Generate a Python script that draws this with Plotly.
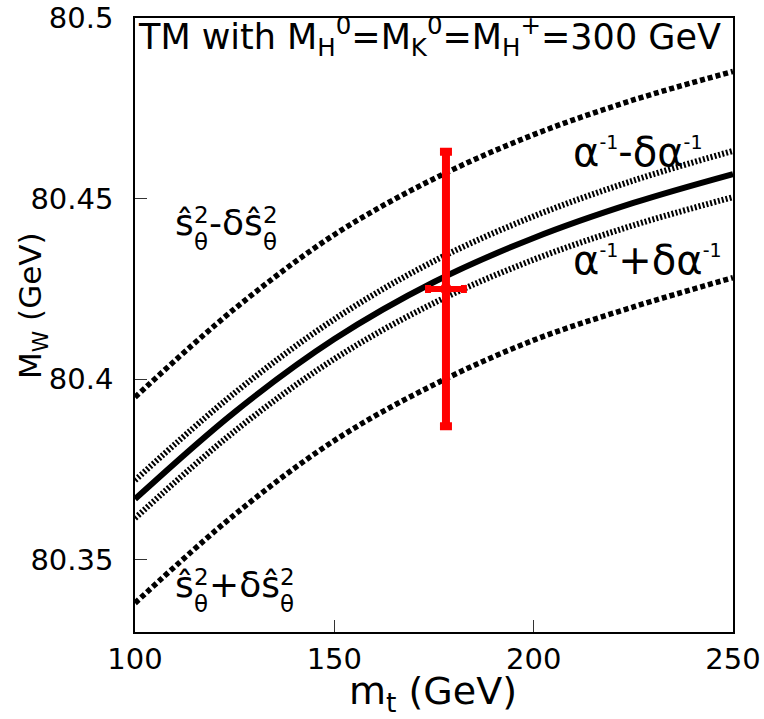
import plotly.graph_objects as go

# ---- data ----
mt = [100, 125, 150, 175, 200, 225, 250]
mw_central = [80.3668, 80.3909, 80.4111, 80.4269, 80.4391, 80.4488, 80.4568]
mw_s_minus = [80.3950, 80.4195, 80.4400, 80.4555, 80.4677, 80.4773, 80.4852]
mw_s_plus = [80.3380, 80.3625, 80.3830, 80.3985, 80.4108, 80.4200, 80.4281]
mw_a_minus = [80.3720, 80.3962, 80.4166, 80.4327, 80.4451, 80.4550, 80.4632]
mw_a_plus = [80.3615, 80.3856, 80.4056, 80.4211, 80.4331, 80.4426, 80.4504]

exp_mt = [178.0]
exp_mt_err = [4.5]
exp_mw = [80.425]
exp_mw_err = [0.038]

x_ticks = [100, 150, 200, 250]
x_ticktext = ["100", "150", "200", "250"]
y_ticks = [80.35, 80.4, 80.45, 80.5]
y_ticktext = ["80.35", "80.4", "80.45", "80.5"]

FONT = "DejaVu Sans"

fig = go.Figure()

def curve(y, width, dash):
    fig.add_trace(go.Scatter(x=mt, y=y, mode="lines",
                             line=dict(color="black", width=width, dash=dash, shape="spline"),
                             hoverinfo="skip", showlegend=False))

curve(mw_s_minus, 5.5, "5px,3px")
curve(mw_s_plus, 5.5, "5px,3px")
curve(mw_a_minus, 6, "2px,2px")
curve(mw_a_plus, 6, "2px,2px")
curve(mw_central, 6, "solid")

fig.add_trace(go.Scatter(
    x=exp_mt, y=exp_mw, mode="markers",
    marker=dict(color="red", size=12, symbol="circle"),
    error_x=dict(type="data", array=exp_mt_err, color="red", thickness=6, width=4),
    error_y=dict(type="data", array=exp_mw_err, color="red", thickness=8, width=6),
    showlegend=False, hoverinfo="skip"))

# plot area in pixels: x 135..733, y 18..632
def px(xp):
    return (xp - 135) / 598.0

def py(yp):
    return (632 - yp) / 614.0

ann = []

def add(text, x, y, size, xanchor="left", yanchor="middle", **kw):
    d = dict(text=text, x=px(x), y=py(y), xanchor=xanchor, yanchor=yanchor,
             font=dict(size=size, family=FONT, color="black"),
             xref="paper", yref="paper", showarrow=False)
    d.update(kw)
    ann.append(d)

add("TM with M<sub>H</sub><sup>0</sup>=M<sub>K</sub><sup>0</sup>=M<sub>H</sub><sup>+</sup>=300 GeV",
    136, 36, 35)

# s-hat labels with stacked super/subscripts
def shat_label(x0, yc, op):
    opw = 13 if op == "-" else 30
    add("ŝ", x0, yc - 2.7, 36, borderpad=0)
    add("2", x0 + 19, yc - 10.5, 23, borderpad=0)
    add("θ", x0 + 19, yc + 16.5, 23, borderpad=0)
    xs = x0 + 34
    add(op + "δŝ", xs, yc - 2.7, 36, borderpad=0)
    xe = xs + opw + 22 + 19
    add("2", xe, yc - 10.5, 23, borderpad=0)
    add("θ", xe, yc + 16.5, 23, borderpad=0)

shat_label(174, 225, "-")
shat_label(174, 587, "+")

SUP = "<sup><span style='font-size:19px'>-1</span></sup>"
add("α" + SUP + "-δα" + SUP, 571, 177, 40, yanchor="bottom")
add("α" + SUP + "+δα" + SUP, 571, 285, 40, yanchor="bottom")

add("m<sub>t</sub> (GeV)", 433, 693, 38, xanchor="center")
add("M<sub>W</sub> (GeV)", 32, 306, 31, xanchor="center", textangle=-90)

fig.update_layout(
    width=764, height=719,
    margin=dict(l=135, r=31, t=18, b=87, autoexpand=False),
    paper_bgcolor="white", plot_bgcolor="white",
    annotations=ann,
    xaxis=dict(range=[100, 250], tickvals=x_ticks, ticktext=x_ticktext,
               automargin=False,
               showgrid=False, zeroline=False, showline=True, mirror=True,
               linecolor="black", linewidth=1.5, ticks="inside", ticklen=12,
               tickwidth=1.2, tickcolor="#333",
               tickfont=dict(size=29, family=FONT, color="black")),
    yaxis=dict(range=[80.33, 80.5], tickvals=y_ticks, ticktext=y_ticktext,
               automargin=False,
               showgrid=False, zeroline=False, showline=True, mirror=True,
               linecolor="black", linewidth=1.5, ticks="inside", ticklen=12,
               tickwidth=1.2, tickcolor="#333", ticklabelstandoff=14,
               tickfont=dict(size=29, family=FONT, color="black")),
)

fig.write_html("out.html")
